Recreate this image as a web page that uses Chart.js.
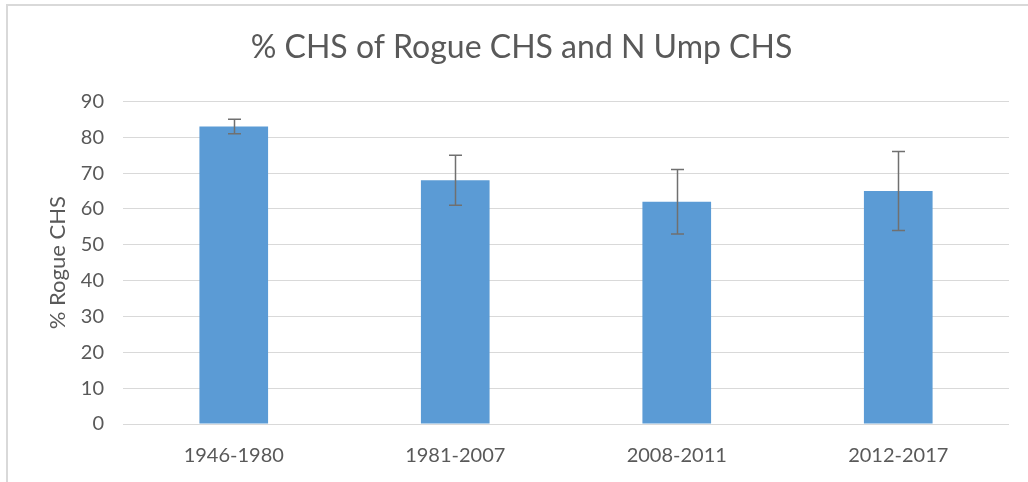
<!DOCTYPE html>
<html>
<head>
<meta charset="utf-8">
<script src="https://cdn.jsdelivr.net/npm/chart.js@4/dist/chart.umd.min.js"></script>
<style>
  html, body { margin: 0; padding: 0; background: #fff; }
  #wrap { position: relative; width: 1028px; height: 482px; overflow: hidden; }
  #frame { position: absolute; left: 6px; top: 4px; right: -10px; bottom: -10px;
           border-left: 2px solid #d9d9d9; border-top: 2px solid #d9d9d9; pointer-events: none; }
  canvas { position: absolute; left: 0; top: 0; }
</style>
</head>
<body>
<div id="wrap">
  <canvas id="chart" width="1028" height="482"></canvas>
  <div id="frame"></div>
</div>
<script>
// chart data
const periods = ['1946-1980', '1981-2007', '2008-2011', '2012-2017'];
const rogueShare = [83, 68, 62, 65];
const rogueError = [2, 7, 9, 11];

const TEXT_COLOR = '#595959';
const FONT = 'Lato, "Open Sans", sans-serif';

// draws the +/- error bars on top of each column
const errorBarPlugin = {
  id: 'errorBars',
  afterDatasetsDraw(chart) {
    const { ctx, scales: { y } } = chart;
    const meta = chart.getDatasetMeta(0);
    ctx.save();
    ctx.strokeStyle = '#707070';
    ctx.lineWidth = 1.5;
    meta.data.forEach((bar, i) => {
      const v = rogueShare[i];
      const e = rogueError[i];
      const yTop = y.getPixelForValue(v + e);
      const yBot = y.getPixelForValue(v - e);
      const x = Math.round(bar.x) + 0.5;
      const cap = 6.5;
      ctx.beginPath();
      ctx.moveTo(x, yTop);
      ctx.lineTo(x, yBot);
      ctx.moveTo(x - cap, yTop);
      ctx.lineTo(x + cap, yTop);
      ctx.moveTo(x - cap, yBot);
      ctx.lineTo(x + cap, yBot);
      ctx.stroke();
    });
    ctx.restore();
  }
};

new Chart(document.getElementById('chart'), {
  type: 'bar',
  data: {
    labels: periods,
    datasets: [{
      label: '% Rogue CHS',
      data: rogueShare,
      backgroundColor: '#5b9bd5',
      borderWidth: 0,
      categoryPercentage: 1,
      barPercentage: 0.31
    }]
  },
  plugins: [errorBarPlugin],
  options: {
    responsive: false,
    animation: false,
    layout: { padding: { left: 34, right: 19, top: 0, bottom: 0 } },
    plugins: {
      legend: { display: false },
      tooltip: { enabled: false },
      title: {
        display: true,
        text: '% CHS of Rogue CHS and N Ump CHS',
        color: TEXT_COLOR,
        font: { family: FONT, size: 32, weight: 'normal' },
        padding: { top: 28, bottom: 35 }
      }
    },
    scales: {
      x: {
        grid: { display: false },
        border: { display: false },
        ticks: {
          color: TEXT_COLOR,
          font: { family: FONT, size: 20 },
          padding: 12
        },
        afterFit(scale) { scale.height = 58; }
      },
      y: {
        min: 0,
        max: 90,
        grid: { color: '#d9d9d9', lineWidth: 1, drawTicks: false },
        border: { display: false },
        ticks: {
          stepSize: 10,
          color: TEXT_COLOR,
          font: { family: FONT, size: 20 },
          padding: 19
        },
        title: {
          display: true,
          text: '% Rogue CHS',
          color: TEXT_COLOR,
          font: { family: FONT, size: 22 },
          padding: { top: 11, bottom: 0 }
        },
        afterFit(scale) { scale.width = 89; }
      }
    }
  }
});
</script>
</body>
</html>
